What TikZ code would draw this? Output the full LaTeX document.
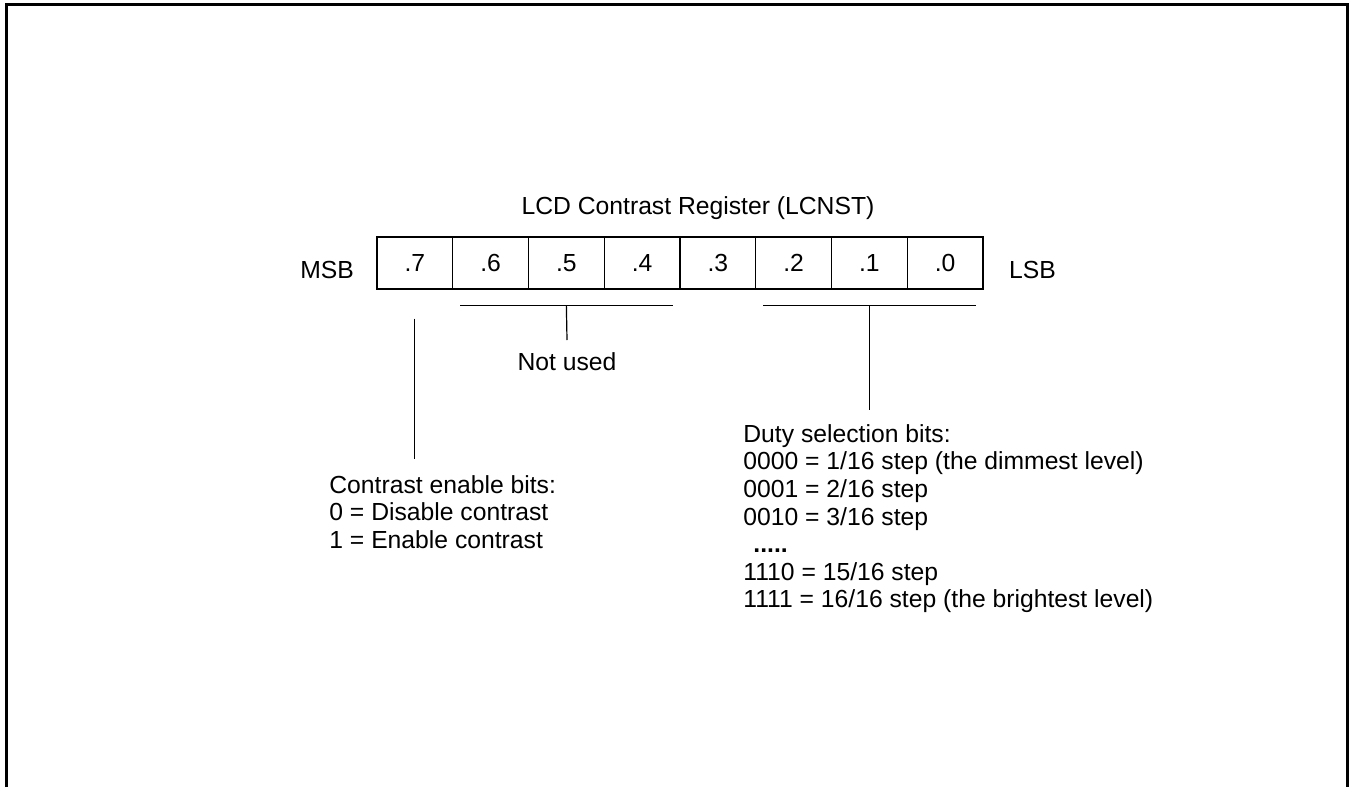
\documentclass[tikz,border=0pt]{standalone}
\usepackage{fontspec}
\setmainfont{Liberation Sans}
\usetikzlibrary{positioning}

\begin{document}
\begin{tikzpicture}[
  x=0.5pt,y=-0.5pt,
  font=\fontsize{12.35}{13.8}\selectfont,
  bitcell/.style={rectangle,draw,line width=0.6pt,inner sep=0pt,
    minimum width=37.875pt,minimum height=26pt},
  note/.style={align=left,inner xsep=0pt,inner ysep=0pt},
  bar/.style={line width=0.6pt}
]
\useasboundingbox (0,0) rectangle (1349,787);
\draw[line width=1.5pt] (6,787) -- (6,4.5) -- (1347.5,4.5) -- (1347.5,787);

\node[anchor=base] (title) at (698,214) {LCD Contrast Register (LCNST)};

% register bits, .7 on the left
\foreach \i in {0,...,7}{
  \pgfmathtruncatemacro{\b}{7-\i}
  \node[bitcell] (c\b) at ({377+75.75*(\i+0.5)},263) {.\b};
}
\node[anchor=base east] (msb) at (361,278) {MSB};
\node[anchor=base west] (lsb) at (1002,278) {LSB};

\node[note,anchor=north,inner ysep=6pt] (unused) at (567,340) {Not used};
\node[note,anchor=north west,inner ysep=8pt] (enable) at (329,459)
  {Contrast enable bits:\\0 = Disable contrast\\1 = Enable contrast};
\node[note,anchor=north west,inner ysep=7pt] (duty) at (743,410)
  {Duty selection bits:\\0000 = 1/16 step (the dimmest level)\\0001 = 2/16 step\\
   0010 = 3/16 step\\\hspace*{5pt}\textbf{.....}\\1110 = 15/16 step\\
   1111 = 16/16 step (the brightest level)};

\draw[bar] ([xshift=4pt,yshift=-8pt]c6.south west) -- ([xshift=-4pt,yshift=-8pt]c4.south east);
\draw[bar] ([yshift=-8pt]c5.south) -- (unused.north);
\draw[bar] ([xshift=4pt,yshift=-8pt]c2.south west) -- ([xshift=-4pt,yshift=-8pt]c0.south east);
\draw[bar] ([yshift=-8pt]c1.south) -- (c1.south |- duty.north);
\draw[bar] ([yshift=-14.5pt]c7.south) -- (c7.south |- enable.north);
\end{tikzpicture}
\end{document}
